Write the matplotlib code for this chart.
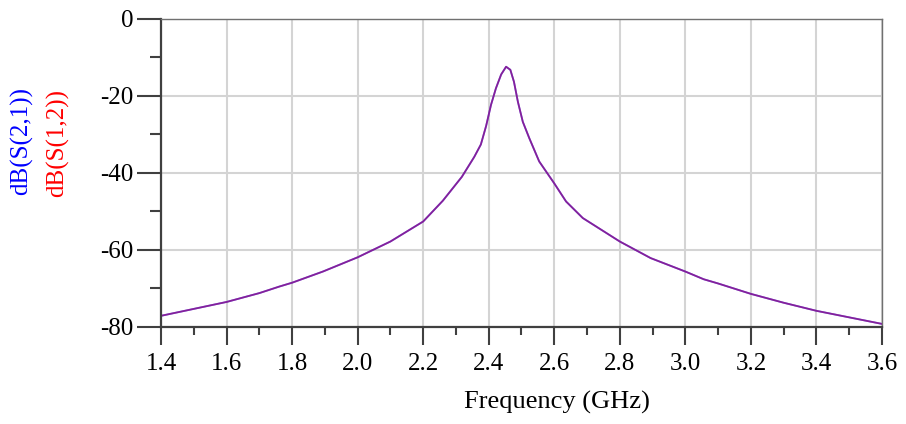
import matplotlib.pyplot as plt
from matplotlib.ticker import MultipleLocator

# values (both traces lie on top of each other)
freq_ghz = [1.40, 1.50, 1.60, 1.70, 1.761, 1.80, 1.894, 2.00, 2.10, 2.20,
            2.26, 2.318, 2.356, 2.376, 2.392, 2.407, 2.422, 2.438, 2.453,
            2.466, 2.477, 2.489, 2.504, 2.524, 2.554, 2.60, 2.636, 2.687,
            2.80, 2.894, 3.00, 3.056, 3.10, 3.20, 3.30, 3.40, 3.50, 3.60]
s21_db = [-77.1, -75.3, -73.5, -71.2, -69.5, -68.5, -65.6, -61.9, -57.8, -52.6,
          -47.2, -41.0, -35.8, -32.6, -27.8, -22.3, -18.0, -14.4, -12.4,
          -13.2, -16.3, -21.5, -26.7, -31.0, -37.0, -42.7, -47.4, -51.7,
          -57.8, -62.1, -65.6, -67.6, -68.7, -71.4, -73.7, -75.8, -77.5, -79.2]
s12_db = list(s21_db)

x_ticks = [1.4, 1.6, 1.8, 2.0, 2.2, 2.4, 2.6, 2.8, 3.0, 3.2, 3.4, 3.6]
y_ticks = [0, -20, -40, -60, -80]

plt.rcParams["font.family"] = ["Liberation Serif", "DejaVu Serif"]
plt.rcParams["axes.unicode_minus"] = False

fig = plt.figure(figsize=(9.06, 4.24), dpi=100)
ax = fig.add_axes([0.1777, 0.2288, 0.7958, 0.7264])

ax.plot(freq_ghz, s21_db, color="#2020ff", lw=1.3)
ax.plot(freq_ghz, s12_db, color="#ff2020", lw=1.3, alpha=0.45)

ax.set_xlim(1.4, 3.6)
ax.set_ylim(-80, 0)
ax.set_xticks(x_ticks)
ax.set_xticklabels([f"{v:.1f}" for v in x_ticks])
ax.set_yticks(y_ticks)
ax.xaxis.set_minor_locator(MultipleLocator(0.1))
ax.yaxis.set_minor_locator(MultipleLocator(10))

ax.grid(True, which="major", color="#d4d4d4", lw=1.5)
ax.set_axisbelow(True)

for side in ("left", "bottom"):
    ax.spines[side].set_color("#404040")
    ax.spines[side].set_linewidth(1.6)
for side in ("top", "right"):
    ax.spines[side].set_color("#707070")
    ax.spines[side].set_linewidth(1.0)

ax.tick_params(axis="y", which="major", length=17, width=1.5, color="#404040",
               labelsize=18, pad=3)
ax.tick_params(axis="y", which="minor", length=8, width=1.5, color="#404040")
ax.tick_params(axis="x", which="major", length=13, width=1.5, color="#404040",
               labelsize=18, pad=6)
ax.tick_params(axis="x", which="minor", length=6, width=1.5, color="#404040")

fig.text(0.615, 0.05, "Frequency (GHz)", ha="center", va="center", fontsize=19)
fig.text(0.024, 0.667, "dB(S(2,1))", color="blue", rotation=90,
         ha="center", va="center", fontsize=18)
fig.text(0.064, 0.662, "dB(S(1,2))", color="red", rotation=90,
         ha="center", va="center", fontsize=18)

fig.savefig("out.png", dpi=100)
